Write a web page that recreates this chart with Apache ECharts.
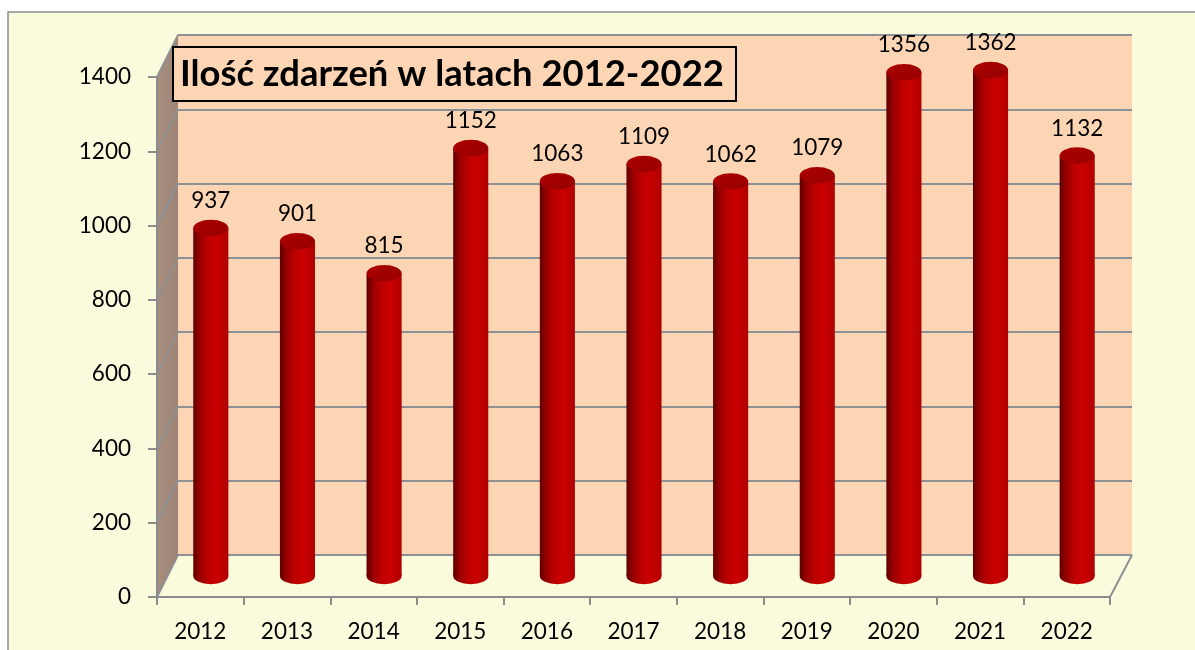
<!DOCTYPE html>
<html><head><meta charset="utf-8">
<script src="https://cdn.jsdelivr.net/npm/echarts@6/dist/echarts.min.js"></script>
<style>html,body{margin:0;padding:0;background:#fff}#c{width:1195px;height:650px}</style>
</head><body><div id="c"></div>
<script>
// ---- data ----
const categories = ['2012','2013','2014','2015','2016','2017','2018','2019','2020','2021','2022'];
const values = [937, 901, 815, 1152, 1063, 1109, 1062, 1079, 1356, 1362, 1132];
const titleText = 'Ilość zdarzeń w latach 2012-2022';
const yMin = 0, yMax = 1400, yInterval = 200;

// ---- layout / style ----
const FRONT = {left:157, top:77, width:953, height:520};
const DX = 21, DY = -42;
const BACK = {left:FRONT.left+DX, top:FRONT.top+DY, width:FRONT.width+1, height:FRONT.height};
const MID = {left:FRONT.left+DX/2, top:FRONT.top+DY/2, width:FRONT.width, height:FRONT.height};
const FONT = 'Lato, "Open Sans", sans-serif';
const GRID_COLOR = '#8E9194';
const AXIS_COLOR = '#8C8C8C';
const BG = '#FAFADD';
const WALL = '#FCD5B4';

const chart = echarts.init(document.getElementById('c'), null, {renderer:'canvas'});

const bodyGrad = () => new echarts.graphic.LinearGradient(0,0,1,0,[
  {offset:0, color:'#5E0000'},
  {offset:0.18, color:'#960000'},
  {offset:0.45, color:'#C00000'},
  {offset:0.7, color:'#C80000'},
  {offset:1, color:'#B00000'}
]);
const capGrad = () => new echarts.graphic.LinearGradient(0,0,1,1,[
  {offset:0, color:'#B00000'},
  {offset:0.5, color:'#A00000'},
  {offset:1, color:'#980000'}
]);

const option = {
  backgroundColor:'#ffffff',
  animation:false,
  title:{
    text:titleText, left:173, top:47,
    padding:[9,12,9,7], borderColor:'#000', borderWidth:2, backgroundColor:WALL,
    textStyle:{fontFamily:FONT, fontWeight:'bold', fontSize:36.4, color:'#000'}
  },
  grid:[
    Object.assign({containLabel:false}, FRONT),
    Object.assign({containLabel:false}, BACK),
    Object.assign({containLabel:false}, MID)
  ],
  xAxis:[
    {gridIndex:0, type:'category', data:categories,
     axisLine:{show:true, lineStyle:{color:AXIS_COLOR, width:2}},
     axisTick:{show:true, length:8, lineStyle:{color:AXIS_COLOR, width:2}},
     axisLabel:{fontFamily:FONT, fontSize:22.5, color:'#000', margin:23},
     splitLine:{show:false}},
    {gridIndex:1, type:'category', data:categories, show:false},
    {gridIndex:2, type:'category', data:categories, show:false}
  ],
  yAxis:[
    {gridIndex:0, type:'value', min:yMin, max:yMax, interval:yInterval,
     axisLine:{show:true, lineStyle:{color:AXIS_COLOR, width:2}},
     axisTick:{show:true, length:9, lineStyle:{color:AXIS_COLOR, width:2}},
     axisLabel:{fontFamily:FONT, fontSize:22.5, color:'#000', margin:26, formatter:v=>String(v)},
     splitLine:{show:false}},
    {gridIndex:1, type:'value', min:yMin, max:yMax, interval:yInterval,
     axisLine:{show:false}, axisTick:{show:false}, axisLabel:{show:false},
     splitLine:{show:true, lineStyle:{color:GRID_COLOR, width:2}}},
    {gridIndex:2, type:'value', min:yMin, max:yMax, interval:yInterval, show:false}
  ],
  series:[{
    type:'custom', xAxisIndex:2, yAxisIndex:2, z:5,
    data: values.map((v,i)=>[i,v]),
    renderItem(params, api){
      const i = api.value(0), v = api.value(1);
      const top = api.coord([i, v]);
      const base = api.coord([i, 0]);
      const w = api.size([1,0])[0]*0.405;
      const rx = w/2, sy = 0.47, ry = rx*sy;
      return {type:'group', children:[
        {type:'circle', shape:{cx:0, cy:0, r:rx}, x:base[0], y:base[1], scaleY:sy, style:{fill:bodyGrad()}},
        {type:'rect', shape:{x:top[0]-rx, y:top[1], width:w, height:base[1]-top[1]}, style:{fill:bodyGrad()}},
        {type:'circle', shape:{cx:0, cy:0, r:rx}, x:top[0], y:top[1], scaleY:sy, style:{fill:capGrad()}},
        {type:'text', x:top[0], y:top[1]-ry-19, style:{text:String(v), fontFamily:FONT, fontSize:22.5, fill:'#000', align:'center', verticalAlign:'middle'}}
      ]};
    }
  }]
};
chart.setOption(option);

// walls and depth lines from the axes' own scales
const graphics = [];
graphics.push({type:'rect', z:-20, shape:{x:8, y:12, width:1300, height:800}, style:{fill:BG, stroke:AXIS_COLOR, lineWidth:1.5}});
graphics.push({type:'rect', z:-15, shape:{x:BACK.left, y:BACK.top, width:BACK.width, height:BACK.height}, style:{fill:WALL}});
graphics.push({type:'polygon', z:-14, shape:{points:[
  [FRONT.left, FRONT.top],[BACK.left, BACK.top],[BACK.left, BACK.top+BACK.height],[FRONT.left, FRONT.top+FRONT.height]
]}, style:{fill:new echarts.graphic.LinearGradient(0,0,1,0,[{offset:0,color:'#A88E7E'},{offset:1,color:'#9E8474'}])}});
for (let v = yMin; v <= yMax; v += yInterval) {
  const yf = chart.convertToPixel({yAxisIndex:0}, v);
  const yb = chart.convertToPixel({yAxisIndex:1}, v);
  graphics.push({type:'line', z:-13, shape:{x1:FRONT.left, y1:yf, x2:BACK.left, y2:yb}, style:{stroke:GRID_COLOR, lineWidth:2}});
}
{
  const yf = chart.convertToPixel({yAxisIndex:0}, yMin);
  const yb = chart.convertToPixel({yAxisIndex:1}, yMin);
  graphics.push({type:'line', z:-13, shape:{x1:FRONT.left+FRONT.width, y1:yf, x2:BACK.left+BACK.width, y2:yb}, style:{stroke:GRID_COLOR, lineWidth:2}});
}
chart.setOption({graphic:graphics});
</script></body></html>
